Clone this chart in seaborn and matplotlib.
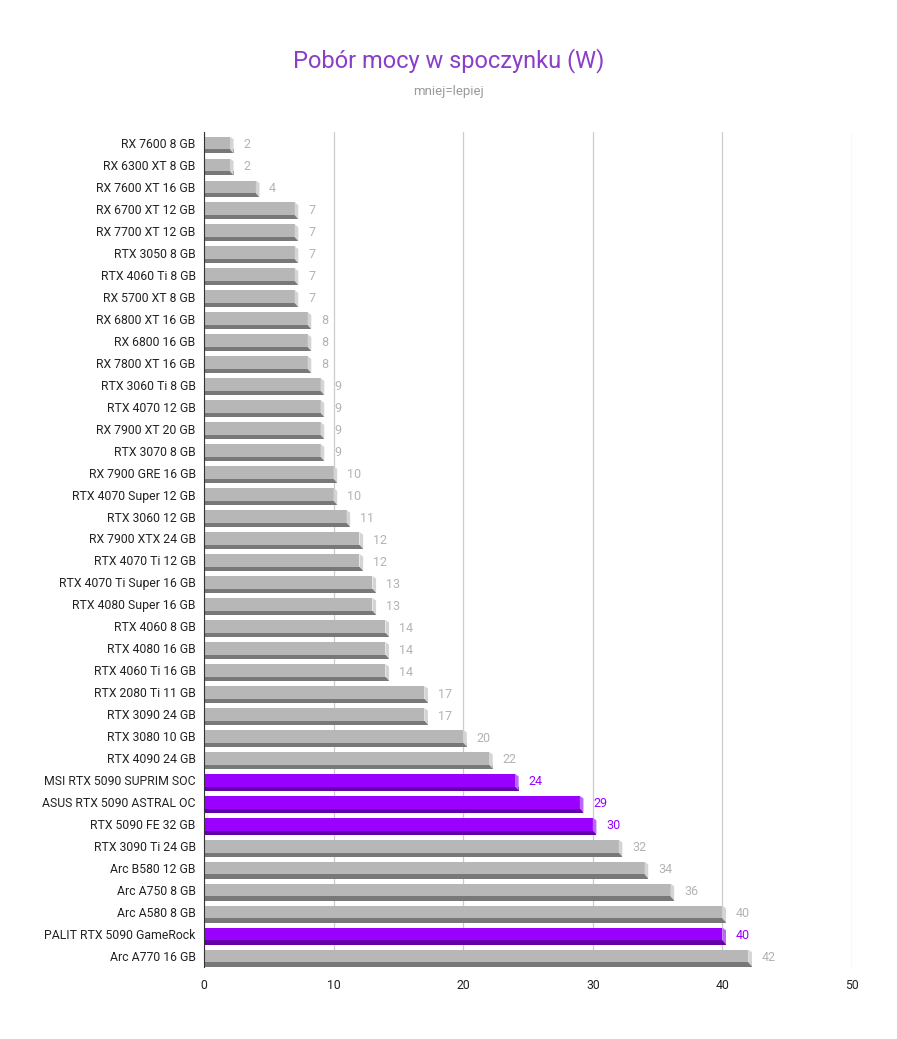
import matplotlib
matplotlib.use("Agg")
import matplotlib.pyplot as plt
from matplotlib.patches import Rectangle, Polygon
import pandas as pd
import seaborn as sns

names = [
    "RX 7600 8 GB", "RX 6300 XT 8 GB", "RX 7600 XT 16 GB", "RX 6700 XT 12 GB",
    "RX 7700 XT 12 GB", "RTX 3050 8 GB", "RTX 4060 Ti 8 GB", "RX 5700 XT 8 GB",
    "RX 6800 XT 16 GB", "RX 6800 16 GB", "RX 7800 XT 16 GB", "RTX 3060 Ti 8 GB",
    "RTX 4070 12 GB", "RX 7900 XT 20 GB", "RTX 3070 8 GB", "RX 7900 GRE 16 GB",
    "RTX 4070 Super 12 GB", "RTX 3060 12 GB", "RX 7900 XTX 24 GB", "RTX 4070 Ti 12 GB",
    "RTX 4070 Ti Super 16 GB", "RTX 4080 Super 16 GB", "RTX 4060 8 GB", "RTX 4080 16 GB",
    "RTX 4060 Ti 16 GB", "RTX 2080 Ti 11 GB", "RTX 3090 24 GB", "RTX 3080 10 GB",
    "RTX 4090 24 GB", "MSI RTX 5090 SUPRIM SOC", "ASUS RTX 5090 ASTRAL OC",
    "RTX 5090 FE 32 GB", "RTX 3090 Ti 24 GB", "Arc B580 12 GB", "Arc A750 8 GB",
    "Arc A580 8 GB", "PALIT RTX 5090 GameRock", "Arc A770 16 GB",
]
watts = [2, 2, 4, 7, 7, 7, 7, 7, 8, 8, 8, 9, 9, 9, 9, 10, 10, 11, 12, 12,
         13, 13, 14, 14, 14, 17, 17, 20, 22, 24, 29, 30, 32, 34, 36, 40, 40, 42]
highlight = ["MSI RTX 5090 SUPRIM SOC", "ASUS RTX 5090 ASTRAL OC",
             "RTX 5090 FE 32 GB", "PALIT RTX 5090 GameRock"]
x_ticks = [0, 10, 20, 30, 40, 50]

df = pd.DataFrame({"name": names, "watts": watts})
df["kind"] = ["rtx5090" if n in highlight else "other" for n in names]

face = {"other": "#b7b7b7", "rtx5090": "#9900ff"}
shade = {"other": "#787878", "rtx5090": "#6300a8"}
side = {"other": "#d4d4d4", "rtx5090": "#bb66ff"}
label_col = {"other": "#b3b3b3", "rtx5090": "#9900ff"}

sns.set_style("white")
plt.rcParams["font.family"] = ["Roboto", "DejaVu Sans"]

fig = plt.figure(figsize=(8.97, 10.39), dpi=100)
ax = fig.add_axes([0.2274, 0.0693, 0.7224, 0.8037])

sns.barplot(data=df, y="name", x="watts", hue="kind", palette=face,
            dodge=False, legend=False, width=0.58, orient="h", ax=ax,
            linewidth=0, saturation=1)

ax.set_xlim(0, 50)
ax.set_xticks(x_ticks)
ax.grid(axis="x", color="#cccccc", linewidth=0.9)
ax.set_axisbelow(True)

# 3D look: dark strip under each bar and a light bevel on the right end
dx = 0.28
for patch in list(ax.patches):
    x0, y0 = patch.get_x(), patch.get_y()
    w, h = patch.get_width(), patch.get_height()
    row = int(round(y0 + h / 2))
    k = df["kind"].iloc[row]
    val = df["watts"].iloc[row]
    s = 0.19
    ax.add_patch(Rectangle((x0, y0 + h), w + dx, s, facecolor=shade[k],
                           linewidth=0, zorder=2))
    ax.add_patch(Polygon([(x0 + w, y0), (x0 + w + dx, y0 + 0.12),
                          (x0 + w + dx, y0 + h + s), (x0 + w, y0 + h)],
                         closed=True, facecolor=side[k], linewidth=0, zorder=2))
    ax.annotate(f"{val}", (x0 + w + dx, y0 + h / 2 + 0.08),
                xytext=(7, 0), textcoords="offset points",
                va="center", ha="left", fontsize=9, color=label_col[k])

for sp in ["top", "right", "bottom"]:
    ax.spines[sp].set_visible(False)
ax.spines["left"].set_color("#333333")
ax.spines["left"].set_linewidth(0.8)

ax.set_xlabel("")
ax.set_ylabel("")
ax.tick_params(axis="both", length=0, labelsize=8.8, colors="#222222")
ax.tick_params(axis="y", pad=6)
ax.tick_params(axis="x", pad=9)

fig.text(0.5, 0.942, "Pobór mocy w spoczynku (W)", ha="center", va="center",
         fontsize=17, color="#8a3ec8")
fig.text(0.5, 0.912, "mniej=lepiej", ha="center", va="center",
         fontsize=9.5, color="#9a9a9a")

fig.savefig("out.png", dpi=100, facecolor="white")
